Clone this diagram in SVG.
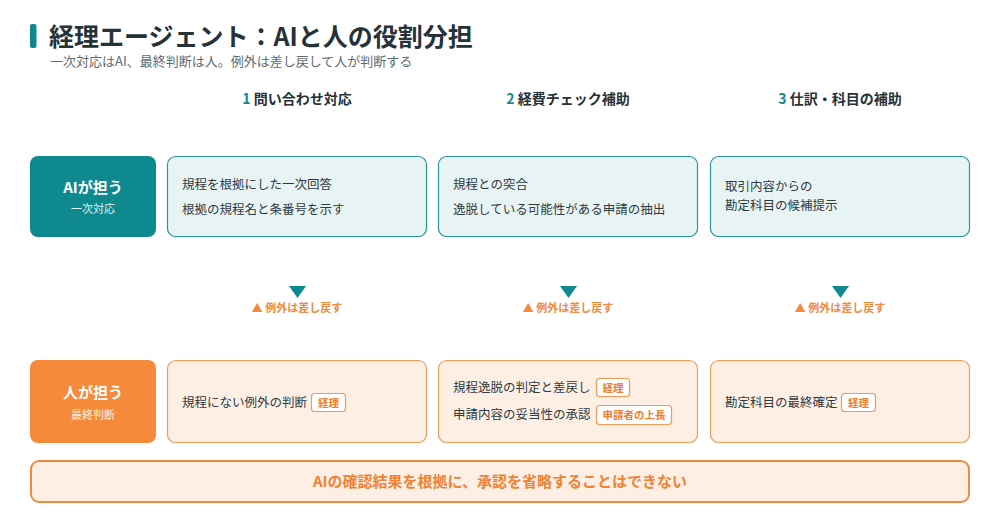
<svg xmlns="http://www.w3.org/2000/svg" width="1000" height="523" viewBox="0 0 1000 523">
<style>
text{font-family:"Noto Sans CJK JP","Noto Sans",sans-serif;}
.title{font-size:25px;font-weight:700;fill:#263238;}
.sub{font-size:13px;fill:#5f6b70;}
.colh{font-size:14px;font-weight:700;fill:#263238;text-anchor:middle;}
.num{fill:#0e8a8f;}
.aibox{fill:#0e8a8f;}
.hubox{fill:#f68a3b;}
.lblm{font-size:15px;font-weight:700;fill:#ffffff;text-anchor:middle;}
.lbls{font-size:11px;fill:#ffffff;fill-opacity:0.9;text-anchor:middle;}
.aicard{fill:#e8f4f4;stroke:#2a959a;stroke-width:1.2;}
.hucard{fill:#fdefe4;stroke:#f19a5a;stroke-width:1.2;}
.ct{font-size:12.5px;fill:#2e3a3f;}
.tag{fill:#ffffff;stroke:#f19a5a;stroke-width:1.2;}
.tagt{font-size:10.5px;font-weight:700;fill:#ef7f2e;text-anchor:middle;}
.arr{fill:#0e8a8f;}
.back{font-size:11px;font-weight:700;fill:#f08a3e;text-anchor:middle;}
.banner{fill:#fdefe4;stroke:#f08a3e;stroke-width:2;}
.bant{font-size:15px;font-weight:700;fill:#ef8233;text-anchor:middle;}
</style>

<g id="header">
<rect x="30" y="24" width="6.5" height="24" rx="2" fill="#0e8a8f"/>
<text class="title" x="49" y="46">経理エージェント：AIと人の役割分担</text>
<text class="sub" x="50" y="66">一次対応はAI、最終判断は人。例外は差し戻して人が判断する</text>
</g>

<g id="col-headers">
<text class="colh" x="297" y="104"><tspan class="num">1</tspan> 問い合わせ対応</text>
<text class="colh" x="568" y="104"><tspan class="num">2</tspan> 経費チェック補助</text>
<text class="colh" x="840" y="104"><tspan class="num">3</tspan> 仕訳・科目の補助</text>
</g>

<g id="ai-role">
<rect class="aibox" x="30" y="156" width="126" height="81" rx="8"/>
<text class="lblm" x="93" y="193">AIが担う</text>
<text class="lbls" x="93" y="213">一次対応</text>
</g>

<g id="ai-1">
<rect class="aicard" x="167.5" y="156.5" width="259" height="80" rx="8"/>
<text class="ct" x="182" y="189">規程を根拠にした一次回答</text>
<text class="ct" x="182" y="214">根拠の規程名と条番号を示す</text>
</g>
<g id="ai-2">
<rect class="aicard" x="438.5" y="156.5" width="259" height="80" rx="8"/>
<text class="ct" x="453" y="189">規程との突合</text>
<text class="ct" x="453" y="214">逸脱している可能性がある申請の抽出</text>
</g>
<g id="ai-3">
<rect class="aicard" x="710.5" y="156.5" width="259" height="80" rx="8"/>
<text class="ct" x="725" y="191">取引内容からの</text>
<text class="ct" x="725" y="210">勘定科目の候補提示</text>
</g>

<g id="connectors">
<polygon class="arr" points="289,286 306,286 297.5,298"/>
<text class="back" x="297" y="312">▲ 例外は差し戻す</text>
<polygon class="arr" points="560,286 577,286 568.5,298"/>
<text class="back" x="568" y="312">▲ 例外は差し戻す</text>
<polygon class="arr" points="832,286 849,286 840.5,298"/>
<text class="back" x="840" y="312">▲ 例外は差し戻す</text>
</g>

<g id="human-role">
<rect class="hubox" x="30" y="360" width="126" height="83" rx="8"/>
<text class="lblm" x="93" y="398">人が担う</text>
<text class="lbls" x="93" y="419">最終判断</text>
</g>

<g id="hu-1">
<rect class="hucard" x="167.5" y="360.5" width="259" height="82" rx="8"/>
<text class="ct" x="182" y="406.5">規程にない例外の判断</text>
<rect class="tag" x="311.5" y="393.5" width="34" height="18" rx="3"/>
<text class="tagt" x="328.5" y="406.5">経理</text>
</g>
<g id="hu-2">
<rect class="hucard" x="438.5" y="360.5" width="259" height="82" rx="8"/>
<text class="ct" x="453" y="392">規程逸脱の判定と差戻し</text>
<rect class="tag" x="596.5" y="378.5" width="33" height="18" rx="3"/>
<text class="tagt" x="613" y="391.5">経理</text>
<text class="ct" x="453" y="419">申請内容の妥当性の承認</text>
<rect class="tag" x="596.5" y="405.5" width="75" height="19" rx="3"/>
<text class="tagt" x="634" y="419">申請者の上長</text>
</g>
<g id="hu-3">
<rect class="hucard" x="710.5" y="360.5" width="259" height="82" rx="8"/>
<text class="ct" x="725" y="406.5">勘定科目の最終確定</text>
<rect class="tag" x="841.5" y="393.5" width="34" height="18" rx="3"/>
<text class="tagt" x="858.5" y="406.5">経理</text>
</g>

<g id="banner">
<rect class="banner" x="31" y="461" width="938" height="41" rx="8"/>
<text class="bant" x="500" y="486.5">AIの確認結果を根拠に、承認を省略することはできない</text>
</g>
</svg>
